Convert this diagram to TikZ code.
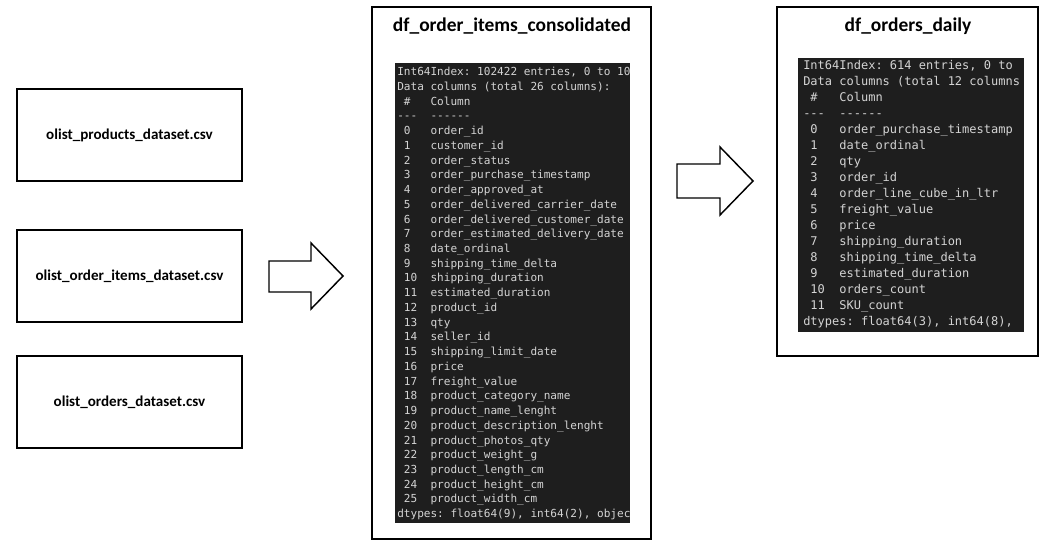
\documentclass[tikz,border=0pt]{standalone}
\usepackage{fontspec}
\usepackage{tikz}
\usepackage{xcolor}
\newfontfamily\calibri{Carlito}
\setmonofont{DejaVu Sans Mono}
\definecolor{panelbg}{RGB}{30,30,30}
\definecolor{paneltext}{RGB}{212,212,212}

\begin{document}
\begin{tikzpicture}[x=0.75pt,y=0.75pt,yscale=-1,xscale=1,
  csvbox/.style={draw, line width=1.5pt, minimum width=168.75pt, minimum height=69pt,
    font=\calibri\bfseries\fontsize{11.3}{13}\selectfont},
  dfbox/.style={draw, line width=1.5pt},
  dftitle/.style={font=\calibri\bfseries\fontsize{14.6}{17}\selectfont},
  infotext/.style={text=paneltext, align=left, inner sep=0pt, anchor=north west},
  blockarrow/.style={draw, line width=1.1pt, line join=miter}]
\useasboundingbox (0,0) rectangle (1054,551);

%Shape: Rectangle [csv sources]
\node[csvbox] (products) at (129.5,135) {olist\_products\_dataset.csv};
\node[csvbox] (orderitems) at (129.5,276) {olist\_order\_items\_dataset.csv};
\node[csvbox] (orders) at (129.5,402) {olist\_orders\_dataset.csv};

%Shape: Right Arrow [merge]
\draw[blockarrow] (269,261) -- (311,261) -- (311,243) -- (343,276) -- (311,309) -- (311,292) -- (269,292) -- cycle ;

%Shape: Rectangle [consolidated frame]
\node[dfbox, minimum width=209.25pt, minimum height=399pt] (items) at (511.5,273) {};
\node[dftitle] (itemstitle) at (512,26) {df\_order\_items\_consolidated};
\fill[panelbg] (395,63) rectangle (630,523);
\begin{scope}
\clip (395,63) rectangle (630,523);
% Text Node
\node[infotext, font=\ttfamily\fontsize{8.3}{11.05}\selectfont] (itemsinfo) at (397,67) {\frenchspacing
Int64Index: 102422 entries, 0 to 102\\
Data columns (total 26 columns):\\
~\#~~~Column\\
-{}-{}-~~-{}-{}-{}-{}-{}-\\
~0~~~order\_id\\
~1~~~customer\_id\\
~2~~~order\_status\\
~3~~~order\_purchase\_timestamp\\
~4~~~order\_approved\_at\\
~5~~~order\_delivered\_carrier\_date\\
~6~~~order\_delivered\_customer\_date\\
~7~~~order\_estimated\_delivery\_date\\
~8~~~date\_ordinal\\
~9~~~shipping\_time\_delta\\
~10~~shipping\_duration\\
~11~~estimated\_duration\\
~12~~product\_id\\
~13~~qty\\
~14~~seller\_id\\
~15~~shipping\_limit\_date\\
~16~~price\\
~17~~freight\_value\\
~18~~product\_category\_name\\
~19~~product\_name\_lenght\\
~20~~product\_description\_lenght\\
~21~~product\_photos\_qty\\
~22~~product\_weight\_g\\
~23~~product\_length\_cm\\
~24~~product\_height\_cm\\
~25~~product\_width\_cm\\
dtypes: float64(9), int64(2), object};
\end{scope}

%Shape: Right Arrow [aggregate]
\draw[blockarrow] (677,164) -- (720,164) -- (720,147) -- (753,181) -- (720,215) -- (720,198) -- (677,198) -- cycle ;

%Shape: Rectangle [daily frame]
\node[dfbox, minimum width=195.75pt, minimum height=261.75pt] (daily) at (907.5,181.5) {};
\node[dftitle] (dailytitle) at (908,26) {df\_orders\_daily};
\fill[panelbg] (798,58) rectangle (1024,332);
\begin{scope}
\clip (798,58) rectangle (1024,332);
% Text Node
\node[infotext, font=\ttfamily\fontsize{9}{12}\selectfont] (dailyinfo) at (803,60) {\frenchspacing
Int64Index: 614 entries, 0 to\\
Data columns (total 12 columns\\
~\#~~~Column\\
-{}-{}-~~-{}-{}-{}-{}-{}-\\
~0~~~order\_purchase\_timestamp\\
~1~~~date\_ordinal\\
~2~~~qty\\
~3~~~order\_id\\
~4~~~order\_line\_cube\_in\_ltr\\
~5~~~freight\_value\\
~6~~~price\\
~7~~~shipping\_duration\\
~8~~~shipping\_time\_delta\\
~9~~~estimated\_duration\\
~10~~orders\_count\\
~11~~SKU\_count\\
dtypes: float64(3), int64(8),};
\end{scope}

\end{tikzpicture}
\end{document}
